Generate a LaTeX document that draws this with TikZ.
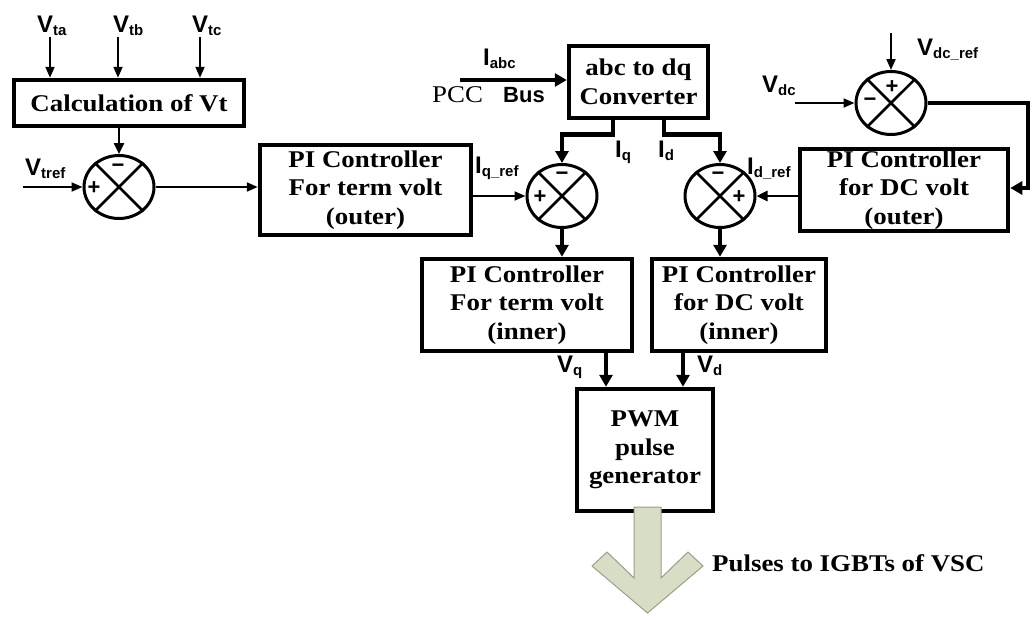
\documentclass[tikz,border=0pt]{standalone}
\usepackage{fontspec}
\setmainfont{Liberation Serif}[FakeStretch=1.12]
\setsansfont{Liberation Sans}
\usetikzlibrary{arrows.meta,shapes.geometric}
\definecolor{sage}{HTML}{D8DDC6}
\definecolor{sageedge}{HTML}{9A9F88}
\tikzset{
 blk/.style={draw, line width=4.5pt, align=center, inner sep=0pt, font=\bfseries\fontsize{24}{28.5}\selectfont},
 sumj/.style={ellipse, draw, line width=3pt, minimum width=70pt, minimum height=63pt, inner sep=0pt},
 thinarr/.style={line width=2pt, -{Triangle[length=11pt,width=9pt]}},
 midarr/.style={line width=2.6pt, -{Triangle[length=11pt,width=10pt]}},
 thickarr/.style={line width=4.5pt, -{Triangle[length=12pt,width=13pt]}},
 lbl/.style={anchor=base west, inner sep=0pt, font=\sffamily\bfseries\fontsize{24}{24}\selectfont},
 sgn/.style={inner sep=0pt, font=\sffamily\bfseries\fontsize{22}{22}\selectfont},
}
\newcommand{\sbs}[1]{\raisebox{-3pt}{\fontsize{15}{15}\selectfont #1}}
\begin{document}
\begin{tikzpicture}[x=1pt,y=-1pt]
\useasboundingbox (0,0) rectangle (1033,619);
% blocks
\node[blk, minimum width=230pt, minimum height=46pt] (calc) at (129,103) {Calculation of Vt};
\node[blk, minimum width=211pt, minimum height=90pt] (pio1) at (365.5,190) {PI Controller\\For term volt\\(outer)};
\node[blk, minimum width=139pt, minimum height=72pt] (abc) at (638.5,82) {abc to dq\\Converter};
\node[blk, minimum width=208pt, minimum height=82pt] (pio2) at (904,190) {PI Controller\\for DC volt\\(outer)};
\node[blk, minimum width=210pt, minimum height=92pt] (pii1) at (527,305) {PI Controller\\For term volt\\(inner)};
\node[blk, minimum width=174pt, minimum height=92pt] (pii2) at (739,305) {PI Controller\\for DC volt\\(inner)};
\node[blk, minimum width=136pt, minimum height=122pt] (pwm) at (645,450) {PWM\\pulse\\generator};
% summing junctions
\node[sumj] (s1) at (119,187) {};
\node[sumj] (s2) at (562,196) {};
\node[sumj] (s3) at (720,196) {};
\node[sumj] (s4) at (891,103) {};
\foreach \s in {s1,s2,s3,s4}{\draw[line width=2.5pt] (\s.45) -- (\s.225) (\s.135) -- (\s.315);}
% signs
\node[sgn] at (118,168) {−};
\node[sgn] at (94,188) {+};
\node[sgn] at (562,176) {−};
\node[sgn] at (540,197) {+};
\node[sgn] at (718,176) {−};
\node[sgn] at (739,197) {+};
\node[sgn] at (892,87) {+};
\node[sgn] at (870,102) {−};
% labels
\node[lbl] (lta) at (37,32) {V\sbs{ta}};
\node[lbl] (ltb) at (113,32) {V\sbs{tb}};
\node[lbl] (ltc) at (192,32) {V\sbs{tc}};
\node[lbl] (ltref) at (25,175) {V\sbs{tref}};
\node[lbl] (liqr) at (475,173) {I\sbs{q\_ref}};
\node[lbl] (liabc) at (483,65) {I\sbs{abc}};
\node[anchor=base west, inner sep=0pt, font=\fontsize{24}{24}\selectfont] (lpcc) at (432,102) {PCC};
\node[anchor=base west, inner sep=0pt, font=\sffamily\bfseries\fontsize{22}{22}\selectfont] (lbus) at (503,102) {Bus};
\node[lbl] (liq) at (615,157) {I\sbs{q}};
\node[lbl] (lid) at (658,157) {I\sbs{d}};
\node[lbl] (lidr) at (747,174) {I\sbs{d\_ref}};
\node[lbl] (lvdc) at (762,92) {V\sbs{dc}};
\node[lbl] (lvdcr) at (917,55) {V\sbs{dc\_ref}};
\node[lbl] (lvq) at (557,372) {V\sbs{q}};
\node[lbl] (lvd) at (697,372) {V\sbs{d}};
% connectors
\coordinate (ta) at (50,37);
\coordinate (tb) at (118,37);
\coordinate (tc) at (200,37);
\draw[thinarr] (ta) -- (ta |- calc.north);
\draw[thinarr] (tb) -- (tb |- calc.north);
\draw[thinarr] (tc) -- (tc |- calc.north);
\draw[midarr] (s1 |- calc.south) -- (s1.north);
\coordinate (vtr) at (23,187);
\draw[thinarr] (vtr) -- (s1.west);
\draw[thinarr] (s1.east) -- (pio1.west |- s1.east);
\draw[thinarr] (pio1.east |- s2.west) -- (s2.west);
\coordinate (pcc) at (460,80);
\draw[thickarr] (pcc) -- (abc.west |- pcc);
\coordinate (qx) at (613,0);
\coordinate (dx) at (664,0);
\draw[thickarr] (abc.south -| qx) -- ++(0,14) -| (s2.north);
\draw[thickarr] (abc.south -| dx) -- ++(0,14) -| (s3.north);
\draw[thickarr] (s2.south) -- (s2.south |- pii1.north);
\draw[thickarr] (s3.south) -- (s3.south |- pii2.north);
\draw[midarr] (pio2.west |- s3.east) -- (s3.east);
\coordinate (vdc) at (795,103);
\draw[thinarr] (vdc) -- (s4.west);
\coordinate (vdr) at (891,33);
\draw[thinarr] (vdr) -- (s4.north);
\coordinate (lp) at (1028,188);
\draw[thickarr] (s4.east) -| (lp) -- (pio2.east |- lp);
\coordinate (vq) at (606,0);
\coordinate (vd) at (683,0);
\draw[thickarr] (pii1.south -| vq) -- (pwm.north -| vq);
\draw[thickarr] (pii2.south -| vd) -- (pwm.north -| vd);
% big output arrow
\draw[fill=sage, draw=sageedge, line width=1pt] (634,507) -- (634,578) -- (607,552) -- (592,566) -- (647.5,613) -- (703,566) -- (688,552) -- (661,578) -- (661,507) -- cycle;
\node[anchor=west, inner sep=0pt, font=\bfseries\fontsize{24}{24}\selectfont] (pul) at (712,563) {Pulses to IGBTs of VSC};
\end{tikzpicture}
\end{document}
